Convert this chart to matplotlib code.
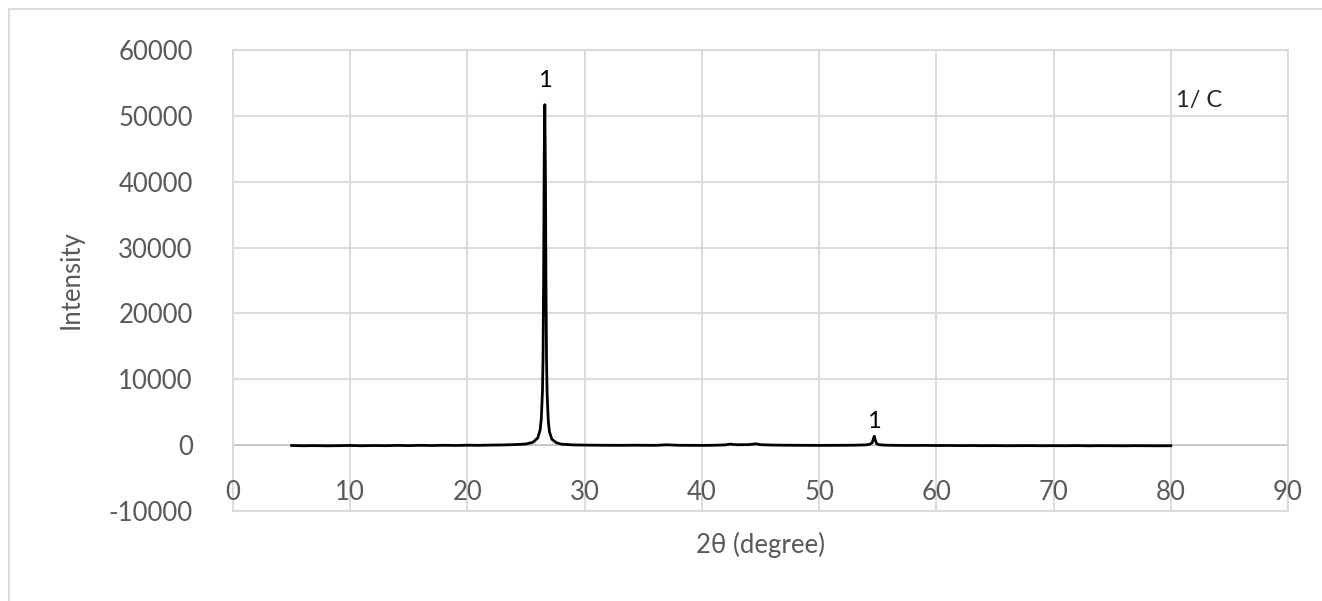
import matplotlib.pyplot as plt
from matplotlib.patches import Rectangle

plt.rcParams['font.family'] = ['Lato', 'DejaVu Sans']
plt.rcParams['axes.unicode_minus'] = False

# 2theta scan of the sample (degree, counts)
two_theta = [5.0, 6.0, 7.0, 8.0, 9.0, 10.0, 11.0, 12.0, 13.0, 14.0,
             15.0, 16.0, 17.0, 18.0, 19.0, 20.0, 21.0, 22.0, 23.0, 24.0,
             25.0, 25.6, 26.0, 26.2, 26.3, 26.4, 26.45, 26.5, 26.55, 26.6,
             26.65, 26.7, 26.75, 26.8, 26.9, 27.0, 27.2, 27.6, 28.0, 29.0,
             30.0, 31.0, 32.0, 33.0, 34.0, 35.0, 36.0, 37.0, 38.0, 39.0,
             40.0, 41.0, 42.0, 42.4, 43.0, 44.0, 44.6, 45.0, 46.0, 47.0,
             48.0, 49.0, 50.0, 51.0, 52.0, 53.0, 54.0, 54.3, 54.5, 54.6,
             54.7, 54.8, 54.9, 55.1, 55.5, 56.0, 57.0, 58.0, 59.0, 60.0,
             61.0, 62.0, 63.0, 64.0, 65.0, 66.0, 67.0, 68.0, 69.0, 70.0,
             71.0, 72.0, 73.0, 74.0, 75.0, 76.0, 77.0, 78.0, 79.0, 80.0]
intensity = [-60, -90, -70, -100, -80, -50, -90, -60, -80, -40,
             -70, -30, -60, -20, -50, -10, -30, 10, 30, 80,
             170, 450, 1100, 2300, 4000, 8200, 13500, 26000, 44000, 51700,
             42000, 24000, 12500, 7600, 3600, 2000, 900, 350, 150, 40,
             10, -10, -20, -30, -10, -20, -30, 50, -20, -30,
             -40, -20, 40, 150, 60, 80, 200, 70, 10, -10,
             -20, -30, -40, -30, -20, -10, 40, 120, 320, 750,
             1350, 730, 240, 70, 10, -20, -40, -50, -40, -60,
             -50, -70, -60, -80, -70, -90, -80, -70, -90, -80,
             -90, -70, -100, -80, -90, -100, -80, -90, -100, -90]

# peak markers: position, label height, label
peak_pos = [26.6, 54.7]
peak_label_y = [55300, 3600]
peak_text = ['1', '1']

xticks = [0, 10, 20, 30, 40, 50, 60, 70, 80, 90]
yticks = [-10000, 0, 10000, 20000, 30000, 40000, 50000, 60000]

grey_txt = '#595959'
grid_c = '#d9d9d9'

fig = plt.figure(figsize=(13.22, 6.01), dpi=100)
ax = fig.add_axes([233 / 1322, 1 - 511 / 601, 1055 / 1322, 461 / 601])

ax.plot(two_theta, intensity, color='black', lw=2.0, zorder=3)

ax.set_xlim(0, 90)
ax.set_ylim(-10000, 60000)
ax.set_xticks(xticks)
ax.set_yticks(yticks)
ax.grid(True, color=grid_c, lw=1.3, zorder=0)
ax.set_axisbelow(True)
for s in ax.spines.values():
    s.set_color(grid_c)
    s.set_linewidth(1.3)
ax.tick_params(length=0)
ax.tick_params(axis='y', pad=29, labelsize=18.5, labelcolor=grey_txt)
ax.set_xticklabels([])

# x tick labels sit just above the bottom edge of the plot area
for t in xticks:
    ax.text(t, 0.012, str(t), transform=ax.get_xaxis_transform(),
            ha='center', va='bottom', fontsize=18.5, color=grey_txt)

# horizontal line at zero drawn a bit darker like an axis
ax.axhline(0, color='#c8c8c8', lw=1.3, zorder=1)

for x, y, s in zip(peak_pos, peak_label_y, peak_text):
    ax.text(x, y, s, ha='center', va='center', fontsize=17, color='black')

ax.text(82.4, 52300, '1/ C', ha='center', va='center', fontsize=17,
        color='#262626')

fig.text(71 / 1322, 1 - 280 / 601, 'Intensity', rotation=90, ha='center',
         va='center', fontsize=18.5, color=grey_txt)
fig.text(761 / 1322, 1 - 545 / 601, '2θ (degree)', ha='center', va='center',
         fontsize=18.5, color=grey_txt)

# chart area frame
fig.patches.append(Rectangle((9 / 1322, -0.05), 1.1, 1 - 9 / 601 + 0.05,
                             transform=fig.transFigure, fill=False,
                             edgecolor=grid_c, lw=1.3))

fig.savefig('out.png', dpi=100)
